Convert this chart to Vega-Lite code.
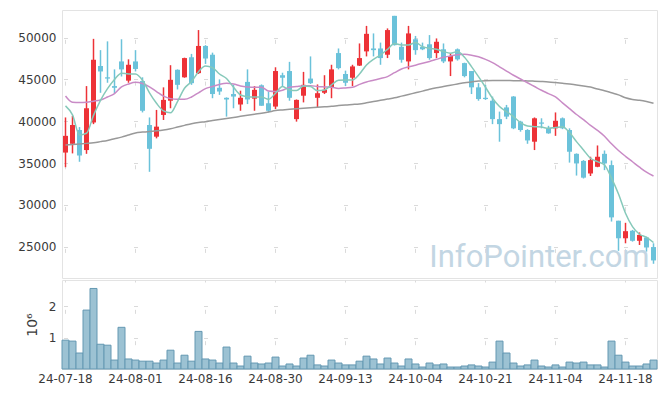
{
"$schema": "https://vega.github.io/schema/vega-lite/v6.json",
"autosize": {"type": "pad"},
"padding": {"left": 17, "top": 9, "right": 5, "bottom": 5},
"background": "white",
"datasets": {"k": [
{"d":"24-07-18","o":36250,"h":40450,"l":34500,"c":38250,"v":920000,"m5":41830,"m20":43020,"m60":37160},
{"d":"24-07-19","o":37300,"h":40650,"l":36150,"c":39550,"v":890000,"m5":40750,"m20":42270,"m60":37220},
{"d":"24-07-22","o":38950,"h":39300,"l":35150,"c":35900,"v":510000,"m5":38360,"m20":42250,"m60":37280},
{"d":"24-07-23","o":36550,"h":44200,"l":36100,"c":41550,"v":1880000,"m5":38560,"m20":42270,"m60":37350},
{"d":"24-07-24","o":39850,"h":49850,"l":39650,"c":47350,"v":2570000,"m5":40700,"m20":42400,"m60":37430},
{"d":"24-07-25","o":46600,"h":48500,"l":43400,"c":45950,"v":790000,"m5":42500,"m20":42540,"m60":37560},
{"d":"24-07-26","o":45250,"h":49550,"l":44600,"c":45100,"v":760000,"m5":43900,"m20":42900,"m60":37700},
{"d":"24-07-29","o":44200,"h":46200,"l":43350,"c":44000,"v":285000,"m5":45000,"m20":43300,"m60":37900},
{"d":"24-07-30","o":47150,"h":49800,"l":45350,"c":46200,"v":1330000,"m5":45750,"m20":44100,"m60":38100},
{"d":"24-07-31","o":44850,"h":47400,"l":44600,"c":46750,"v":320000,"m5":45650,"m20":44450,"m60":38350},
{"d":"24-08-01","o":47150,"h":48500,"l":45950,"c":46250,"v":285000,"m5":45650,"m20":44650,"m60":38600},
{"d":"24-08-02","o":44800,"h":45250,"l":41050,"c":41250,"v":250000,"m5":44900,"m20":44500,"m60":38700},
{"d":"24-08-05","o":39550,"h":40450,"l":33950,"c":36700,"v":250000,"m5":43400,"m20":44100,"m60":38780},
{"d":"24-08-06","o":38150,"h":41350,"l":37950,"c":39350,"v":190000,"m5":42150,"m20":43550,"m60":38850},
{"d":"24-08-07","o":40750,"h":44050,"l":40150,"c":42550,"v":285000,"m5":41230,"m20":43000,"m60":38950},
{"d":"24-08-08","o":42450,"h":46700,"l":41550,"c":44950,"v":600000,"m5":41000,"m20":42700,"m60":39100},
{"d":"24-08-09","o":46150,"h":46200,"l":43800,"c":44350,"v":190000,"m5":42350,"m20":42620,"m60":39300},
{"d":"24-08-12","o":45250,"h":47600,"l":45200,"c":47550,"v":440000,"m5":43940,"m20":42620,"m60":39500},
{"d":"24-08-13","o":47650,"h":48050,"l":44350,"c":44550,"v":250000,"m5":44740,"m20":42900,"m60":39700},
{"d":"24-08-14","o":45750,"h":50900,"l":45650,"c":49000,"v":1200000,"m5":45930,"m20":43400,"m60":39850},
{"d":"24-08-16","o":49000,"h":49100,"l":46850,"c":47500,"v":320000,"m5":46600,"m20":43900,"m60":39950},
{"d":"24-08-19","o":47950,"h":48200,"l":42750,"c":43250,"v":285000,"m5":46400,"m20":44150,"m60":40080},
{"d":"24-08-20","o":44000,"h":45000,"l":43150,"c":43550,"v":190000,"m5":45650,"m20":44400,"m60":40200},
{"d":"24-08-21","o":42800,"h":42850,"l":40550,"c":42600,"v":700000,"m5":45100,"m20":44530,"m60":40330},
{"d":"24-08-22","o":43250,"h":44350,"l":41550,"c":42950,"v":190000,"m5":44060,"m20":44450,"m60":40450},
{"d":"24-08-23","o":42000,"h":43650,"l":41250,"c":42800,"v":95000,"m5":43140,"m20":44220,"m60":40580},
{"d":"24-08-26","o":44700,"h":46200,"l":42050,"c":42600,"v":410000,"m5":42940,"m20":44100,"m60":40700},
{"d":"24-08-27","o":42700,"h":44200,"l":41250,"c":43750,"v":190000,"m5":42900,"m20":44050,"m60":40830},
{"d":"24-08-28","o":44300,"h":44400,"l":41850,"c":41850,"v":160000,"m5":42900,"m20":44060,"m60":40950},
{"d":"24-08-29","o":42150,"h":43550,"l":41050,"c":41250,"v":190000,"m5":42620,"m20":43600,"m60":41100},
{"d":"24-08-30","o":41750,"h":46450,"l":41450,"c":46000,"v":380000,"m5":43340,"m20":43540,"m60":41270},
{"d":"24-09-02","o":45500,"h":45800,"l":44150,"c":45200,"v":95000,"m5":44140,"m20":43700,"m60":41350},
{"d":"24-09-03","o":46000,"h":47100,"l":42450,"c":42800,"v":160000,"m5":43740,"m20":44050,"m60":41420},
{"d":"24-09-04","o":40250,"h":42600,"l":39950,"c":42550,"v":95000,"m5":43660,"m20":44150,"m60":41480},
{"d":"24-09-05","o":43050,"h":45900,"l":42250,"c":44350,"v":350000,"m5":44200,"m20":44250,"m60":41540},
{"d":"24-09-06","o":45100,"h":47750,"l":44450,"c":44550,"v":440000,"m5":44140,"m20":44250,"m60":41600},
{"d":"24-09-09","o":42800,"h":44400,"l":41650,"c":43350,"v":130000,"m5":43660,"m20":44150,"m60":41660},
{"d":"24-09-10","o":43400,"h":45500,"l":43250,"c":43750,"v":95000,"m5":43740,"m20":44100,"m60":41720},
{"d":"24-09-11","o":44050,"h":46750,"l":42750,"c":46200,"v":285000,"m5":44340,"m20":44060,"m60":41780},
{"d":"24-09-12","o":48150,"h":48700,"l":46200,"c":46350,"v":190000,"m5":44900,"m20":43920,"m60":41880},
{"d":"24-09-13","o":45650,"h":46050,"l":44200,"c":44600,"v":130000,"m5":44940,"m20":43980,"m60":41950},
{"d":"24-09-19","o":45200,"h":46750,"l":44200,"c":46550,"v":130000,"m5":44940,"m20":44060,"m60":42000},
{"d":"24-09-20","o":46650,"h":49300,"l":46600,"c":47550,"v":250000,"m5":45650,"m20":44400,"m60":42060},
{"d":"24-09-23","o":48350,"h":51400,"l":47750,"c":50450,"v":410000,"m5":46730,"m20":44700,"m60":42200},
{"d":"24-09-24","o":48700,"h":50500,"l":47750,"c":48500,"v":320000,"m5":47400,"m20":44900,"m60":42350},
{"d":"24-09-25","o":48700,"h":49400,"l":46750,"c":47550,"v":160000,"m5":47930,"m20":45100,"m60":42500},
{"d":"24-09-26","o":47950,"h":51100,"l":47550,"c":50900,"v":350000,"m5":48600,"m20":45330,"m60":42650},
{"d":"24-09-27","o":52600,"h":52600,"l":49050,"c":49100,"v":190000,"m5":49300,"m20":45800,"m60":42800},
{"d":"24-09-30","o":48900,"h":49400,"l":47000,"c":47350,"v":95000,"m5":49120,"m20":46250,"m60":43000},
{"d":"24-10-02","o":47150,"h":51400,"l":46200,"c":50500,"v":320000,"m5":49120,"m20":46500,"m60":43200},
{"d":"24-10-04","o":49800,"h":50200,"l":47950,"c":48500,"v":160000,"m5":49400,"m20":46700,"m60":43400},
{"d":"24-10-07","o":48900,"h":49400,"l":48500,"c":48600,"v":63000,"m5":48920,"m20":46920,"m60":43600},
{"d":"24-10-08","o":49200,"h":50300,"l":47350,"c":47550,"v":190000,"m5":48720,"m20":47150,"m60":43820},
{"d":"24-10-10","o":48150,"h":49900,"l":47550,"c":49500,"v":130000,"m5":48600,"m20":47400,"m60":44000},
{"d":"24-10-11","o":48600,"h":49300,"l":46950,"c":47150,"v":160000,"m5":48330,"m20":47650,"m60":44150},
{"d":"24-10-14","o":47150,"h":48150,"l":45400,"c":47800,"v":63000,"m5":48130,"m20":47800,"m60":44300},
{"d":"24-10-15","o":48600,"h":48700,"l":47250,"c":47400,"v":63000,"m5":48330,"m20":47950,"m60":44450},
{"d":"24-10-16","o":46950,"h":47000,"l":45250,"c":45400,"v":95000,"m5":47650,"m20":48000,"m60":44600},
{"d":"24-10-17","o":46000,"h":46000,"l":43250,"c":44050,"v":130000,"m5":46530,"m20":47900,"m60":44700},
{"d":"24-10-18","o":44050,"h":44550,"l":42450,"c":42650,"v":95000,"m5":45330,"m20":47700,"m60":44800},
{"d":"24-10-21","o":42800,"h":44350,"l":42550,"c":42650,"v":63000,"m5":44060,"m20":47400,"m60":44850},
{"d":"24-10-22","o":42450,"h":42950,"l":39650,"c":40250,"v":220000,"m5":42740,"m20":47000,"m60":44870},
{"d":"24-10-23","o":40250,"h":41150,"l":37550,"c":39650,"v":890000,"m5":41750,"m20":46500,"m60":44870},
{"d":"24-10-24","o":41650,"h":41950,"l":40250,"c":40550,"v":510000,"m5":41150,"m20":46000,"m60":44860},
{"d":"24-10-25","o":42950,"h":43000,"l":39050,"c":39150,"v":190000,"m5":40550,"m20":45500,"m60":44850},
{"d":"24-10-28","o":39950,"h":40050,"l":38750,"c":38950,"v":95000,"m5":39830,"m20":45050,"m60":44840},
{"d":"24-10-29","o":38950,"h":39050,"l":37300,"c":37700,"v":130000,"m5":39430,"m20":44600,"m60":44820},
{"d":"24-10-30","o":37550,"h":40450,"l":36550,"c":40350,"v":285000,"m5":39350,"m20":44150,"m60":44790},
{"d":"24-10-31","o":39850,"h":40350,"l":39150,"c":39700,"v":95000,"m5":39300,"m20":43700,"m60":44750},
{"d":"24-11-01","o":39150,"h":39450,"l":38500,"c":38550,"v":63000,"m5":39150,"m20":43300,"m60":44700},
{"d":"24-11-04","o":39150,"h":41050,"l":38250,"c":40050,"v":130000,"m5":39250,"m20":42900,"m60":44620},
{"d":"24-11-05","o":40350,"h":40450,"l":39050,"c":39150,"v":63000,"m5":39350,"m20":42200,"m60":44530},
{"d":"24-11-06","o":38950,"h":39150,"l":35050,"c":36350,"v":220000,"m5":38640,"m20":41500,"m60":44440},
{"d":"24-11-07","o":36100,"h":36150,"l":33500,"c":34950,"v":190000,"m5":37560,"m20":40800,"m60":44340},
{"d":"24-11-08","o":35250,"h":35350,"l":33150,"c":33250,"v":220000,"m5":36560,"m20":40200,"m60":44220},
{"d":"24-11-11","o":33750,"h":35750,"l":33450,"c":35350,"v":130000,"m5":35570,"m20":39500,"m60":44080},
{"d":"24-11-12","o":34550,"h":37100,"l":34500,"c":35750,"v":130000,"m5":35170,"m20":38900,"m60":43850},
{"d":"24-11-13","o":36100,"h":36500,"l":34150,"c":34950,"v":63000,"m5":34770,"m20":38200,"m60":43650},
{"d":"24-11-14","o":34750,"h":35300,"l":28000,"c":28500,"v":890000,"m5":33200,"m20":37300,"m60":43400},
{"d":"24-11-15","o":28100,"h":28100,"l":24500,"c":26000,"v":440000,"m5":31300,"m20":36500,"m60":43150},
{"d":"24-11-18","o":26000,"h":27850,"l":25400,"c":26850,"v":220000,"m5":29000,"m20":35800,"m60":42800},
{"d":"24-11-19","o":26900,"h":27000,"l":25600,"c":25700,"v":95000,"m5":27400,"m20":35150,"m60":42600},
{"d":"24-11-20","o":25700,"h":26700,"l":25200,"c":26400,"v":95000,"m5":26480,"m20":34500,"m60":42500},
{"d":"24-11-21","o":26100,"h":26200,"l":24400,"c":24900,"v":160000,"m5":26120,"m20":33900,"m60":42350},
{"d":"24-11-22","o":24950,"h":25400,"l":22950,"c":23350,"v":285000,"m5":25500,"m20":33450,"m60":42150}
]},
"config": {
  "view": {"stroke": "#e3e3e3", "strokeWidth": 1},
  "axis": {"labelFont": "DejaVu Sans", "labelFontSize": 12, "labelColor": "#3a3a3a", "domain": false, "ticks": false, "gridColor": "#dadada", "gridWidth": 1, "titleFont": "DejaVu Sans", "titleColor": "#3a3a3a", "titleFontWeight": "normal"}
},
"spacing": 0,
"vconcat": [
  {
    "width": 595, "height": 268,
    "data": {"name": "k"},
    "encoding": {
      "x": {"field": "d", "type": "ordinal", "sort": null, "title": null,
        "scale": {"type": "band", "paddingInner": 0, "paddingOuter": 0},
        "axis": {"values": ["24-07-18","24-08-01","24-08-16","24-08-30","24-09-13","24-10-04","24-10-21","24-11-04","24-11-18"], "labels": false, "grid": true, "gridDash": [4, 37.81], "gridDashOffset": 12.45}}
    },
    "layer": [
      {"mark": {"type": "rule", "strokeWidth": 1.5},
       "encoding": {
         "y": {"field": "l", "type": "quantitative", "title": null, "scale": {"domain": [21250, 53300], "nice": false, "zero": false},
           "axis": {"values": [25000, 30000, 35000, 40000, 45000, 50000], "format": "d", "labelPadding": 6, "grid": true, "gridDash": [4, 66], "gridDashOffset": 68.5}},
         "y2": {"field": "h"},
         "color": {"condition": {"test": "datum.c >= datum.o", "value": "#ED3237"}, "value": "#6BC2DA"}}},
      {"mark": {"type": "bar", "width": {"band": 0.72}},
       "encoding": {
         "y": {"field": "o", "type": "quantitative", "title": null},
         "y2": {"field": "c"},
         "color": {"condition": {"test": "datum.c >= datum.o", "value": "#ED3237"}, "value": "#6BC2DA"}}},
      {"mark": {"type": "line", "interpolate": "monotone", "strokeWidth": 1.5, "color": "#999999"},
       "encoding": {"y": {"field": "m60", "type": "quantitative", "title": null}}},
      {"mark": {"type": "line", "interpolate": "monotone", "strokeWidth": 1.5, "color": "#C98BC6"},
       "encoding": {"y": {"field": "m20", "type": "quantitative", "title": null}}},
      {"mark": {"type": "line", "interpolate": "monotone", "strokeWidth": 1.5, "color": "#86C9BA"},
       "encoding": {"y": {"field": "m5", "type": "quantitative", "title": null}}},
      {"data": {"values": [{"w": 1}]},
       "mark": {"type": "text", "text": "InfoPointer.com", "font": "Roboto", "fontSize": 31, "color": "#c3d6e3", "align": "right", "baseline": "alphabetic", "dx": -4},
       "encoding": {"x": {"datum": "24-11-22", "type": "ordinal"}, "y": {"datum": 22570, "type": "quantitative", "title": null}}}
    ]
  },
  {
    "width": 595, "height": 89,
    "data": {"name": "k"},
    "mark": {"type": "bar", "fill": "#9cc2d3", "stroke": "#6498b2", "strokeWidth": 1},
    "encoding": {
      "x": {"field": "d", "type": "ordinal", "sort": null, "title": null,
        "scale": {"type": "band", "paddingInner": 0, "paddingOuter": 0},
        "axis": {"values": ["24-07-18","24-08-01","24-08-16","24-08-30","24-09-13","24-10-04","24-10-21","24-11-04","24-11-18"], "labelAngle": 0, "labelPadding": 4, "labelOverlap": false, "grid": true, "gridDash": [4, 27.34], "gridDashOffset": 2}},
      "y": {"field": "v", "type": "quantitative", "scale": {"domain": [0, 2840000], "nice": false},
        "axis": {"values": [1000000, 2000000], "labelExpr": "format(datum.value / 1000000, 'd')", "labelPadding": 6, "title": "10⁶", "titleFontSize": 14, "titlePadding": 9, "grid": true, "gridDash": [4, 66], "gridDashOffset": 68.5}}
    }
  }
]
}
